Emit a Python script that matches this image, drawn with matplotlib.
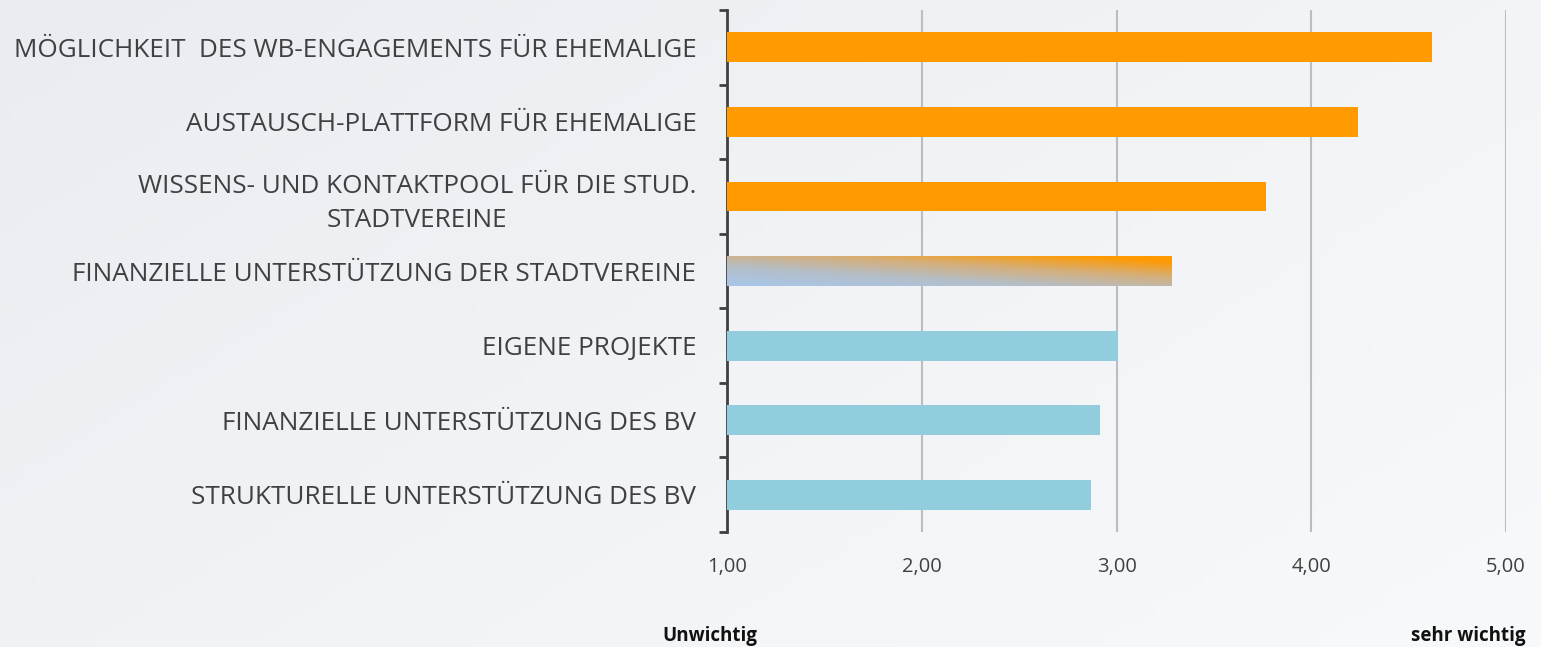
import numpy as np
import matplotlib
matplotlib.use("Agg")
import matplotlib.pyplot as plt
from matplotlib.colors import LinearSegmentedColormap

categories = [
    "MÖGLICHKEIT  DES WB-ENGAGEMENTS FÜR EHEMALIGE",
    "AUSTAUSCH-PLATTFORM FÜR EHEMALIGE",
    "WISSENS- UND KONTAKTPOOL FÜR DIE STUD.\nSTADTVEREINE",
    "FINANZIELLE UNTERSTÜTZUNG DER STADTVEREINE",
    "EIGENE PROJEKTE",
    "FINANZIELLE UNTERSTÜTZUNG DES BV",
    "STRUKTURELLE UNTERSTÜTZUNG DES BV",
]
values = [4.62, 4.24, 3.77, 3.285, 3.01, 2.915, 2.87]
bar_styles = ["orange", "orange", "orange", "gradient", "blue", "blue", "blue"]
xticks = [1, 2, 3, 4, 5]
xtick_labels = ["1,00", "2,00", "3,00", "4,00", "5,00"]

plt.rcParams['font.family'] = ['Open Sans', 'DejaVu Sans']

ORANGE = "#FF9A00"
BLUE = "#92CDDD"
TEXT = "#404040"

fig = plt.figure(figsize=(15.41, 6.47), dpi=100)
# background gradient
bg = fig.add_axes([0, 0, 1, 1], zorder=-10)
gx = np.linspace(0, 1, 256)
gy = np.linspace(0, 1, 64)
GX, GY = np.meshgrid(gx, gy)
bgcm = LinearSegmentedColormap.from_list("bg", ["#e9ecf1", "#f1f3f6", "#f8f9fb"])
bg.imshow(0.6 * GX + 0.4 * GY, cmap=bgcm, aspect="auto", extent=[0, 1, 0, 1], origin="upper")
bg.set_axis_off()

ax = fig.add_axes([0.4718, 0.1777, 0.5055, 0.8068])
ax.patch.set_alpha(0)
y = np.arange(len(categories))
colors = [ORANGE if s == "orange" else BLUE for s in bar_styles]
bars = ax.barh(y, values, height=0.4, color=colors, zorder=3)

gcm = LinearSegmentedColormap.from_list("gr", ["#A9C6E6", "#B4BEC8", "#D4AF7C", "#FF9A00"])
for b, s in zip(bars, bar_styles):
    if s == "gradient":
        x0, y0 = b.get_x(), b.get_y()
        w, h = b.get_width(), b.get_height()
        xs = np.linspace(0, 1, 200)
        ys = np.linspace(0, 1, 40)
        XX, YY = np.meshgrid(xs, ys)
        Z = np.clip(0.55 * XX + 0.6 * YY - 0.05, 0, 1)
        im = ax.imshow(Z, cmap=gcm, aspect="auto", origin="lower",
                       extent=[1, x0 + w, y0 + h, y0], zorder=4, vmin=0, vmax=1)
        im.set_clip_path(b)

ax.set_xlim(1, 5)
ax.set_ylim(len(categories) - 0.5, -0.5)
ax.set_xticks(xticks)
ax.set_xticklabels(xtick_labels, fontsize=14.5, color=TEXT)
ax.grid(axis="x", color="#bdbdbd", linewidth=1.5, zorder=0)
ax.set_yticks(y)
ax.set_yticklabels(categories, fontsize=18.8, color=TEXT, ha="right",
                   multialignment="center", linespacing=1.45)
ax.set_yticks(np.arange(-0.5, len(categories), 1), minor=True)
ax.tick_params(axis="y", which="major", length=0, pad=22)
ax.tick_params(axis="y", which="minor", length=6, width=2, color=TEXT)
ax.tick_params(axis="x", length=0, pad=18)
for sp in ["top", "right", "bottom"]:
    ax.spines[sp].set_visible(False)
ax.spines["left"].set_color(TEXT)
ax.spines["left"].set_linewidth(2)

fig.text(710 / 1541, 1 - 636 / 647, "Unwichtig", ha="center", va="center",
         fontsize=13.5, fontweight="bold", color="#111111")
fig.text(1468 / 1541, 1 - 636 / 647, "sehr wichtig", ha="center", va="center",
         fontsize=13.5, fontweight="bold", color="#111111")

fig.savefig("out.png", dpi=100, facecolor=fig.get_facecolor())
